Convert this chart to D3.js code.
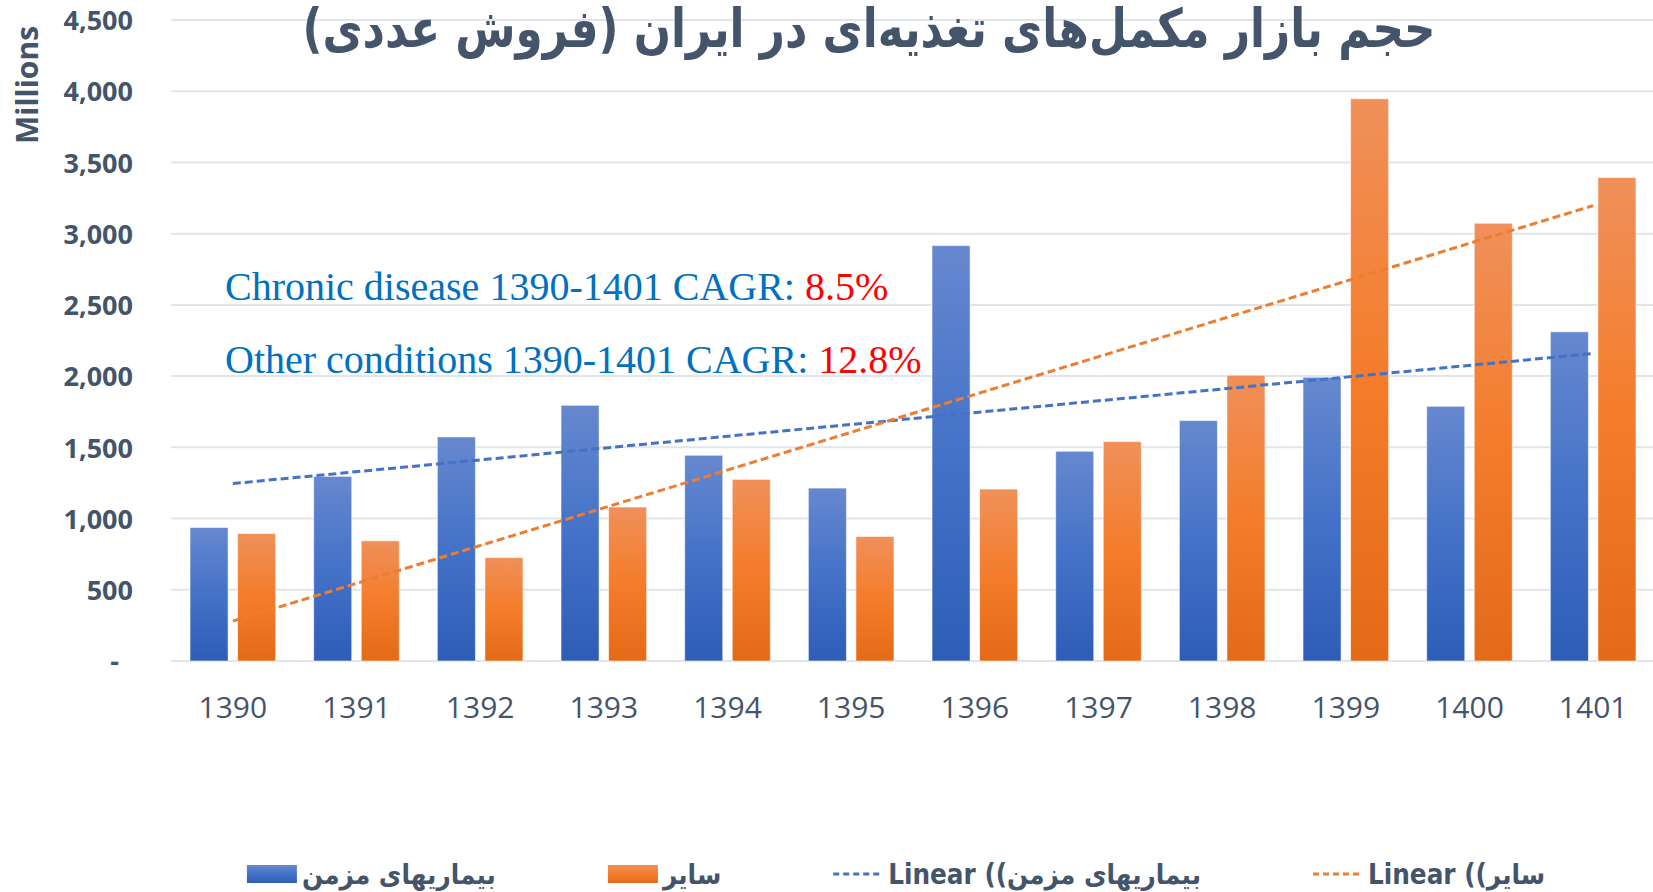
<!DOCTYPE html>
<html>
<head>
<meta charset="utf-8">
<script src="https://cdn.jsdelivr.net/npm/d3@7/dist/d3.min.js"></script>
<style>
  body { margin: 0; background: #fff; }
  svg { display: block; }
</style>
</head>
<body>
<div id="chart"></div>
<script>
// values (millions)
const years = ['1390', '1391', '1392', '1393', '1394', '1395', '1396', '1397', '1398', '1399', '1400', '1401'];
const chronic = [937, 1296, 1573, 1795, 1444, 1214, 2916, 1472, 1688, 1992, 1788, 2311];
const other = [895, 844, 726, 1081, 1275, 874, 1207, 1540, 2006, 3947, 3073, 3394];
const yTicks = [0, 500, 1000, 1500, 2000, 2500, 3000, 3500, 4000, 4500];
const seriesNames = ['بیماریهای مزمن', 'سایر'];
const titleText = 'حجم بازار مکمل‌های تغذیه‌ای در ایران (فروش عددی)';
const notes = [
  { label: 'Chronic disease 1390-1401 CAGR: ', value: '8.5%' },
  { label: 'Other conditions 1390-1401 CAGR: ', value: '12.8%' }
];

const W = 1653, H = 892;
const textColor = '#44546A';
const blue = '#4472C4', orange = '#ED7D31';

const svg = d3.select('#chart').append('svg')
  .attr('width', W)
  .attr('height', H);

// gradients for the bars
const defs = svg.append('defs');
function addGradient(id, stops) {
  const g = defs.append('linearGradient')
    .attr('id', id)
    .attr('x1', 0).attr('y1', 0).attr('x2', 0).attr('y2', 1);
  stops.forEach(s => g.append('stop').attr('offset', s[0]).attr('stop-color', s[1]));
}
addGradient('gBlue', [[0, '#6688CF'], [0.5, '#4472C8'], [1, '#2E5DB7']]);
addGradient('gOrange', [[0, '#F0905A'], [0.5, '#F47C2A'], [1, '#E46A18']]);
const fills = ['url(#gBlue)', 'url(#gOrange)'];

// scales
const x = d3.scaleBand()
  .domain(years)
  .range([171, 1655])
  .paddingInner(1 / 3.25)
  .paddingOuter(0.5 / 3.25);

const xSeries = d3.scaleBand()
  .domain([0, 1])
  .range([0, x.bandwidth()])
  .paddingInner(0.2);

const y = d3.scaleLinear()
  .domain([0, 4500])
  .range([661, 20]);

// grid lines
svg.append('g')
  .selectAll('line')
  .data(yTicks)
  .enter().append('line')
  .attr('x1', 171)
  .attr('x2', W)
  .attr('y1', d => y(d))
  .attr('y2', d => y(d))
  .attr('stroke', '#E1E5EB')
  .attr('stroke-width', 2);

// y axis labels
const yAxis = svg.append('g')
  .attr('transform', 'translate(133,0)')
  .call(d3.axisLeft(y)
    .tickValues(yTicks)
    .tickSize(0)
    .tickPadding(0)
    .tickFormat(d => d === 0 ? '-' : d3.format(',')(d)));
yAxis.select('.domain').remove();
yAxis.selectAll('text')
  .attr('fill', textColor)
  .style('font-family', '"Open Sans", sans-serif')
  .style('font-weight', 'bold')
  .style('font-size', '27px')
  .attr('dy', '0.36em')
  .attr('dx', d => d === 0 ? -14 : 0);

// x axis labels
const xAxis = svg.append('g')
  .attr('transform', 'translate(0,661)')
  .call(d3.axisBottom(x).tickSize(0).tickPadding(0));
xAxis.select('.domain').remove();
xAxis.selectAll('text')
  .attr('fill', textColor)
  .attr('y', 57)
  .attr('dy', 0)
  .style('font-family', '"Open Sans", sans-serif')
  .style('font-size', '30px');

// Millions label
svg.append('text')
  .attr('transform', 'translate(38,85) rotate(-90)')
  .attr('text-anchor', 'middle')
  .attr('fill', textColor)
  .style('font-family', '"Open Sans", sans-serif')
  .style('font-weight', 'bold')
  .style('font-size', '30px')
  .text('Millions');

// title (taller, compact glyphs like the reference font)
const title = svg.append('text')
  .attr('x', 869)
  .attr('y', 0)
  .attr('text-anchor', 'middle')
  .attr('direction', 'rtl')
  .attr('transform', 'translate(0,47) scale(1,1.22)')
  .attr('fill', textColor)
  .style('font-family', '"DejaVu Sans", sans-serif')
  .style('font-weight', 'bold')
  .style('font-size', '48px')
  .text(titleText);
const tw = title.node().getComputedTextLength();
title.style('font-size', (48 * 1133 / tw) + 'px');

// bars
const series = [chronic, other];
const groups = svg.append('g')
  .selectAll('g')
  .data(years)
  .enter().append('g')
  .attr('transform', d => `translate(${x(d)},0)`);

groups.selectAll('rect')
  .data((d, i) => series.map((s, k) => ({ k: k, v: s[i] })))
  .enter().append('rect')
  .attr('x', d => xSeries(d.k))
  .attr('width', xSeries.bandwidth())
  .attr('y', d => y(d.v))
  .attr('height', d => y(0) - y(d.v))
  .attr('fill', d => fills[d.k])
  .attr('stroke', 'rgba(255,255,255,0.55)')
  .attr('stroke-width', 1);

// linear trend lines (least squares, like Excel)
function linearFit(values) {
  const n = values.length;
  const mx = d3.mean(values, (v, i) => i);
  const my = d3.mean(values);
  let sxy = 0, sxx = 0;
  values.forEach((v, i) => { sxy += (i - mx) * (v - my); sxx += (i - mx) * (i - mx); });
  const b = sxy / sxx;
  const a = my - b * mx;
  return [a, a + b * (n - 1)];
}
const center = d => x(d) + x.bandwidth() / 2;
[[chronic, blue], [other, orange]].forEach(([vals, col]) => {
  const ends = linearFit(vals);
  svg.append('line')
    .attr('x1', center(years[0]))
    .attr('y1', y(ends[0]))
    .attr('x2', center(years[years.length - 1]))
    .attr('y2', y(ends[1]))
    .attr('stroke', col)
    .attr('stroke-width', 3)
    .attr('stroke-dasharray', '8,4');
});

// CAGR notes
notes.forEach((n, i) => {
  const t = svg.append('text')
    .attr('x', 225)
    .attr('y', 300 + i * 73)
    .style('font-family', '"Liberation Serif", "Times New Roman", serif')
    .style('font-size', '40px');
  t.append('tspan').attr('fill', '#0070C0').text(n.label);
  t.append('tspan').attr('fill', '#FF0000').text(n.value);
});

// legend
const legendItems = [
  { type: 'rect', fill: fills[0], label: seriesNames[0] },
  { type: 'rect', fill: fills[1], label: seriesNames[1] },
  { type: 'line', color: blue, label: 'Linear ((' + seriesNames[0] },
  { type: 'line', color: orange, label: 'Linear ((' + seriesNames[1] }
];
const legend = svg.append('g');
const legendY = 874;
const items = legend.selectAll('g')
  .data(legendItems)
  .enter().append('g');
items.each(function (d) {
  const g = d3.select(this);
  if (d.type === 'rect') {
    g.append('rect')
      .attr('x', 0).attr('y', legendY - 9)
      .attr('width', 50).attr('height', 18)
      .attr('fill', d.fill);
  } else {
    g.append('line')
      .attr('x1', 0).attr('x2', 50)
      .attr('y1', legendY).attr('y2', legendY)
      .attr('stroke', d.color)
      .attr('stroke-width', 3)
      .attr('stroke-dasharray', '6,4');
  }
  g.append('text')
    .attr('x', 55)
    .attr('y', legendY)
    .attr('dy', '0.35em')
    .attr('fill', textColor)
    .style('font-family', '"DejaVu Sans Condensed", "DejaVu Sans", sans-serif')
    .style('font-weight', 'bold')
    .style('font-size', '27.5px')
    .text(d.label);
});
const widths = [];
items.each(function () { widths.push(this.getBBox().width); });
const gap = 112;
const total = d3.sum(widths) + gap * (widths.length - 1);
let cursor = 896 - total / 2;
items.attr('transform', (d, i) => {
  const tx = cursor;
  cursor += widths[i] + gap;
  return `translate(${tx},0)`;
});
</script>
</body>
</html>
